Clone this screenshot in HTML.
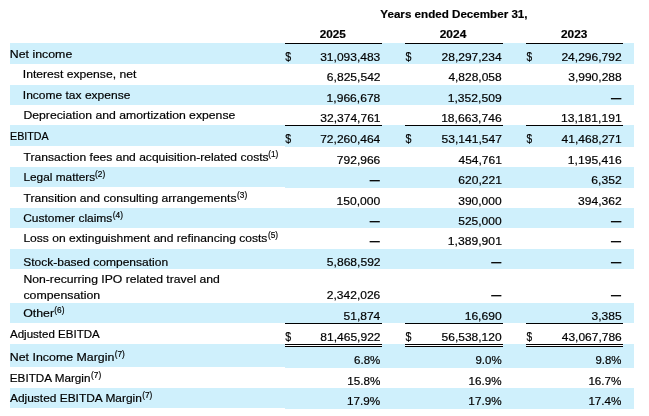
<!DOCTYPE html>
<html lang="en"><head><meta charset="utf-8"><title>Adjusted EBITDA reconciliation</title>
<style>
html,body{margin:0;padding:0;background:#fff;}
body{width:649px;height:416px;position:relative;overflow:hidden;font-family:"Liberation Sans",sans-serif;font-size:11.1px;color:#000;line-height:14px;}
.b{position:absolute;left:10px;width:624px;background:#cff0fc;}
.t,.h{position:absolute;left:0;top:0;white-space:nowrap;transform-origin:0 0;-webkit-text-stroke:0.18px #000;}
.h{font-weight:bold;}
.l{position:absolute;background:#000;height:1px;}
.w{position:absolute;background:#fff;}
sup{font-size:8.4px;line-height:0;vertical-align:baseline;position:relative;top:-4px;margin-left:0.2px;display:inline-block;transform-origin:0 0;}
</style></head><body>

<div class="b" style="top:43px;height:21px"></div>
<div class="b" style="top:85px;height:19.5px"></div>
<div class="b" style="top:125px;height:21px"></div>
<div class="b" style="left:285px;width:349px;top:146px;height:1px"></div>
<div class="b" style="top:167px;height:20px"></div>
<div class="b" style="left:285px;width:349px;top:187px;height:1px"></div>
<div class="b" style="top:208px;height:19.5px"></div>
<div class="b" style="top:249px;height:20px"></div>
<div class="b" style="top:303px;height:20px"></div>
<div class="b" style="top:344px;height:23px"></div>
<div class="b" style="left:285px;width:349px;top:367px;height:1px"></div>
<div class="b" style="top:388px;height:20px"></div>
<div class="b" style="left:285px;width:349px;top:408px;height:1px"></div>
<div class="h" style="transform:translate(380.34px,7.15px) scaleX(1.0470)">Years ended December 31,</div>
<div class="h" style="transform:translate(319.73px,27.15px) scaleX(1.0588)">2025</div>
<div class="h" style="transform:translate(439.73px,27.15px) scaleX(1.0754)">2024</div>
<div class="h" style="transform:translate(561.03px,27.15px) scaleX(1.0670)">2023</div>
<div class="t" style="transform:translate(9.80px,46.95px) scaleX(1.1136)">Net income</div>
<div class="t" style="transform:translate(320.19px,49.75px) scaleX(1.0825)">31,093,483</div>
<div class="t" style="font-size:12.4px;transform:translate(285.25px,50.00px) scaleX(0.8576)">$</div>
<div class="t" style="transform:translate(441.54px,49.75px) scaleX(1.0825)">28,297,234</div>
<div class="t" style="font-size:12.4px;transform:translate(405.55px,50.00px) scaleX(0.8576)">$</div>
<div class="t" style="transform:translate(561.38px,49.75px) scaleX(1.0862)">24,296,792</div>
<div class="t" style="font-size:12.4px;transform:translate(526.45px,50.00px) scaleX(0.8203)">$</div>
<div class="t" style="transform:translate(22.80px,67.05px) scaleX(1.0954)">Interest expense, net</div>
<div class="t" style="transform:translate(326.87px,70.05px) scaleX(1.0876)">6,825,542</div>
<div class="t" style="transform:translate(448.38px,70.05px) scaleX(1.0793)">4,828,058</div>
<div class="t" style="transform:translate(568.22px,70.05px) scaleX(1.0834)">3,990,288</div>
<div class="t" style="transform:translate(22.80px,87.65px) scaleX(1.0829)">Income tax expense</div>
<div class="t" style="transform:translate(326.62px,90.95px) scaleX(1.0876)">1,966,678</div>
<div class="t" style="transform:translate(447.76px,90.95px) scaleX(1.0917)">1,352,509</div>
<div class="h" style="transform:translate(610.95px,90.55px) scaleX(0.9239)">—</div>
<div class="t" style="transform:translate(23.40px,107.75px) scaleX(1.1014)">Depreciation and amortization expense</div>
<div class="t" style="transform:translate(320.23px,111.15px) scaleX(1.0862)">32,374,761</div>
<div class="t" style="transform:translate(441.13px,111.15px) scaleX(1.0899)">18,663,746</div>
<div class="t" style="transform:translate(560.97px,111.15px) scaleX(1.0936)">13,181,191</div>
<div class="t" style="transform:translate(10.00px,129.15px) scaleX(0.9661)">EBITDA</div>
<div class="t" style="transform:translate(320.19px,131.75px) scaleX(1.0825)">72,260,464</div>
<div class="t" style="font-size:12.4px;transform:translate(285.25px,132.00px) scaleX(0.8576)">$</div>
<div class="t" style="transform:translate(441.58px,131.75px) scaleX(1.0862)">53,141,547</div>
<div class="t" style="font-size:12.4px;transform:translate(405.55px,132.00px) scaleX(0.8576)">$</div>
<div class="t" style="transform:translate(561.59px,131.75px) scaleX(1.0825)">41,468,271</div>
<div class="t" style="font-size:12.4px;transform:translate(526.45px,132.00px) scaleX(0.8203)">$</div>
<div class="t" style="transform:translate(23.60px,149.75px) scaleX(1.0873)">Transaction fees and acquisition-related costs<sup style="transform:scaleX(0.911)">(1)</sup></div>
<div class="t" style="transform:translate(336.87px,152.90px) scaleX(1.0829)">792,966</div>
<div class="t" style="transform:translate(458.47px,152.90px) scaleX(1.0828)">454,761</div>
<div class="t" style="transform:translate(567.81px,152.90px) scaleX(1.0917)">1,195,416</div>
<div class="t" style="transform:translate(23.40px,170.40px) scaleX(1.0688)">Legal matters<sup style="transform:scaleX(0.926)">(2)</sup></div>
<div class="h" style="transform:translate(369.79px,172.65px) scaleX(0.9019)">—</div>
<div class="t" style="transform:translate(458.26px,173.05px) scaleX(1.0880)">620,221</div>
<div class="t" style="transform:translate(591.33px,173.05px) scaleX(1.0938)">6,352</div>
<div class="t" style="transform:translate(23.60px,191.15px) scaleX(1.0948)">Transition and consulting arrangements<sup style="transform:scaleX(0.904)">(3)</sup></div>
<div class="t" style="transform:translate(336.46px,194.15px) scaleX(1.0931)">150,000</div>
<div class="t" style="transform:translate(458.21px,194.15px) scaleX(1.0829)">390,000</div>
<div class="t" style="transform:translate(578.06px,194.15px) scaleX(1.0879)">394,362</div>
<div class="t" style="transform:translate(23.20px,211.15px) scaleX(1.0790)">Customer claims<sup style="transform:scaleX(0.917)">(4)</sup></div>
<div class="h" style="transform:translate(369.79px,213.55px) scaleX(0.9019)">—</div>
<div class="t" style="transform:translate(458.22px,213.95px) scaleX(1.0828)">525,000</div>
<div class="h" style="transform:translate(610.95px,213.55px) scaleX(0.9239)">—</div>
<div class="t" style="transform:translate(23.40px,230.90px) scaleX(1.0866)">Loss on extinguishment and refinancing costs<sup style="transform:scaleX(0.911)">(5)</sup></div>
<div class="h" style="transform:translate(369.79px,233.75px) scaleX(0.9019)">—</div>
<div class="t" style="transform:translate(447.81px,234.15px) scaleX(1.0959)">1,389,901</div>
<div class="h" style="transform:translate(610.94px,233.75px) scaleX(0.9019)">—</div>
<div class="t" style="transform:translate(23.20px,254.65px) scaleX(1.0825)">Stock-based compensation</div>
<div class="t" style="transform:translate(326.87px,254.90px) scaleX(1.0876)">5,868,592</div>
<div class="h" style="transform:translate(491.14px,254.50px) scaleX(0.9019)">—</div>
<div class="h" style="transform:translate(610.95px,254.50px) scaleX(0.9239)">—</div>
<div class="t" style="transform:translate(23.40px,272.15px) scaleX(1.0988)">Non-recurring IPO related travel and</div>
<div class="t" style="transform:translate(23.40px,288.15px) scaleX(1.1115)">compensation</div>
<div class="t" style="transform:translate(326.82px,287.90px) scaleX(1.0834)">2,342,026</div>
<div class="h" style="transform:translate(491.14px,287.50px) scaleX(0.9019)">—</div>
<div class="h" style="transform:translate(610.94px,287.50px) scaleX(0.9019)">—</div>
<div class="t" style="transform:translate(23.20px,305.90px) scaleX(1.1116)">Other<sup style="transform:scaleX(0.891)">(6)</sup></div>
<div class="t" style="transform:translate(343.50px,308.65px) scaleX(1.0842)">51,874</div>
<div class="t" style="transform:translate(464.65px,308.65px) scaleX(1.0904)">16,690</div>
<div class="t" style="transform:translate(591.54px,308.65px) scaleX(1.0863)">3,385</div>
<div class="t" style="transform:translate(10.00px,327.05px) scaleX(1.0392)">Adjusted EBITDA</div>
<div class="t" style="transform:translate(320.23px,329.90px) scaleX(1.0862)">81,465,922</div>
<div class="t" style="font-size:12.4px;transform:translate(285.25px,330.15px) scaleX(0.8576)">$</div>
<div class="t" style="transform:translate(441.54px,329.90px) scaleX(1.0825)">56,538,120</div>
<div class="t" style="font-size:12.4px;transform:translate(405.55px,330.15px) scaleX(0.8576)">$</div>
<div class="t" style="transform:translate(561.79px,329.90px) scaleX(1.0789)">43,067,786</div>
<div class="t" style="font-size:12.4px;transform:translate(526.45px,330.15px) scaleX(0.8203)">$</div>
<div class="t" style="transform:translate(9.80px,349.85px) scaleX(1.1155)">Net Income Margin<sup style="transform:scaleX(0.887)">(7)</sup></div>
<div class="t" style="transform:translate(354.07px,353.45px) scaleX(1.0369)">6.8%</div>
<div class="t" style="transform:translate(475.42px,353.45px) scaleX(1.0369)">9.0%</div>
<div class="t" style="transform:translate(595.43px,353.45px) scaleX(1.0287)">9.8%</div>
<div class="t" style="transform:translate(9.80px,371.15px) scaleX(1.0554)">EBITDA Margin<sup style="transform:scaleX(0.938)">(7)</sup></div>
<div class="t" style="transform:translate(347.23px,374.45px) scaleX(1.0509)">15.8%</div>
<div class="t" style="transform:translate(468.58px,374.45px) scaleX(1.0509)">16.9%</div>
<div class="t" style="transform:translate(588.38px,374.45px) scaleX(1.0509)">16.7%</div>
<div class="t" style="transform:translate(10.00px,391.05px) scaleX(1.0748)">Adjusted EBITDA Margin<sup style="transform:scaleX(0.921)">(7)</sup></div>
<div class="t" style="transform:translate(347.02px,394.15px) scaleX(1.0575)">17.9%</div>
<div class="t" style="transform:translate(468.37px,394.15px) scaleX(1.0575)">17.9%</div>
<div class="t" style="transform:translate(588.38px,394.15px) scaleX(1.0509)">17.4%</div>
<div class="l" style="left:285px;width:97px;top:43px"></div>
<div class="l" style="left:285px;width:97px;top:125px"></div>
<div class="l" style="left:285px;width:97px;top:323px"></div>
<div class="w" style="left:285px;width:97px;top:344px;height:3px"></div>
<div class="l" style="left:285px;width:97px;top:344px"></div>
<div class="l" style="left:285px;width:97px;top:346px"></div>
<div class="l" style="left:405px;width:98px;top:43px"></div>
<div class="l" style="left:405px;width:98px;top:125px"></div>
<div class="l" style="left:405px;width:98px;top:323px"></div>
<div class="w" style="left:405px;width:98px;top:344px;height:3px"></div>
<div class="l" style="left:405px;width:98px;top:344px"></div>
<div class="l" style="left:405px;width:98px;top:346px"></div>
<div class="l" style="left:526px;width:97px;top:43px"></div>
<div class="l" style="left:526px;width:97px;top:125px"></div>
<div class="l" style="left:526px;width:97px;top:323px"></div>
<div class="w" style="left:526px;width:97px;top:344px;height:3px"></div>
<div class="l" style="left:526px;width:97px;top:344px"></div>
<div class="l" style="left:526px;width:97px;top:346px"></div>
</body></html>
